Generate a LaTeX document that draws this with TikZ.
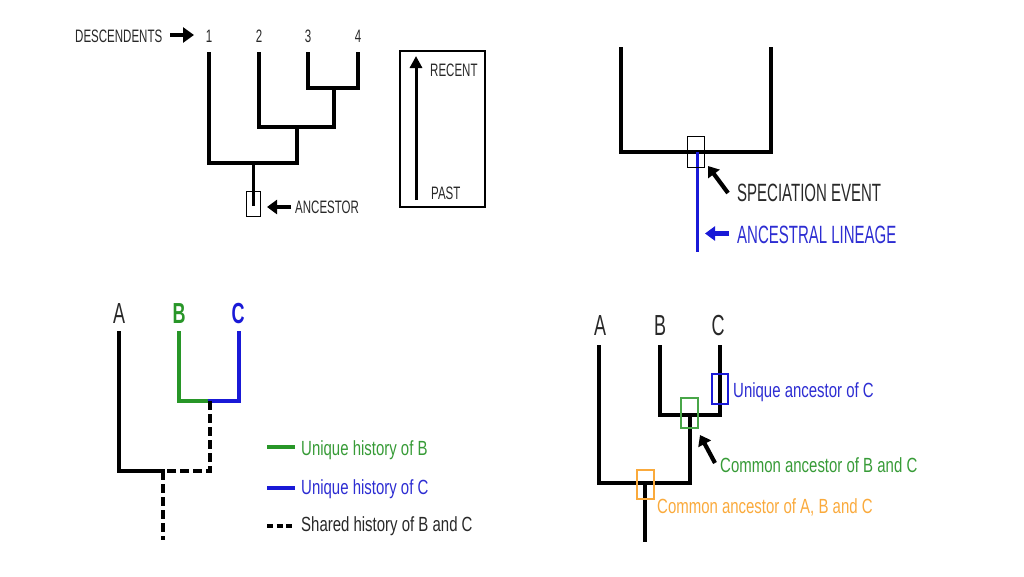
\documentclass[tikz,border=0pt]{standalone}
\usepackage{fontspec}
\setmainfont{Liberation Sans}
\newfontfamily\fA{Liberation Sans}[FakeStretch=0.64]
\newfontfamily\fS{Liberation Sans}[FakeStretch=0.6]
\newfontfamily\fB{Liberation Sans}[FakeStretch=0.73]
\newfontfamily\fL{Liberation Sans}[FakeStretch=0.62]
\usetikzlibrary{arrows.meta}
\definecolor{txtgray}{RGB}{40,40,40}
\definecolor{lgreen}{RGB}{40,150,40}
\definecolor{tgreen}{RGB}{55,155,55}
\definecolor{lblue}{RGB}{25,25,215}
\definecolor{tblue}{RGB}{45,45,210}
\definecolor{lorange}{RGB}{250,170,60}
\tikzset{
  branch/.style={line width=3.4pt, line cap=rect, line join=miter},
  thinbox/.style={draw, line width=0.9pt},
  toptxt/.style={font=\fA\fontsize{18}{20}\selectfont, text=txtgray, inner sep=0, anchor=base west},
  bigtxt/.style={font=\fS\fontsize{25}{27}\selectfont, inner sep=0, anchor=base west},
  legtxt/.style={font=\fB\fontsize{20.5}{23}\selectfont, inner sep=0, anchor=base west},
  leaf/.style={font=\fL\fontsize{29}{31}\selectfont, inner sep=0, anchor=base},
  blockarrow/.style={line width=4.5pt, -{Triangle[width=15pt,length=11pt]}},
  dash3/.style={line width=3.4pt, dash pattern=on 9pt off 4pt},
}
\begin{document}
\begin{tikzpicture}[x=1pt,y=-1pt]
\useasboundingbox (0,0) rectangle (1024,576);

% ---------- top-left tree ----------
\node[toptxt] (desc) at (75,42) {DESCENDENTS};
\coordinate (descA) at (170,35);
\coordinate (descB) at (194,35);
\draw[blockarrow] (descA) -- (descB);
\node[toptxt, anchor=base] (n1) at (209,42) {1};
\node[toptxt, anchor=base] (n2) at (259,42) {2};
\node[toptxt, anchor=base] (n3) at (308,42) {3};
\node[toptxt, anchor=base] (n4) at (358,42) {4};
\coordinate (t1) at (209,54);
\coordinate (t2) at (259,54);
\coordinate (t3) at (308,54);
\coordinate (t4) at (358,54);
\coordinate (j34) at (334,88);
\coordinate (j234) at (297,127);
\coordinate (j1234) at (253,163);
\coordinate (rootTL) at (253,206);
\draw[branch] (t3) |- (j34) -| (t4);
\draw[branch] (j34) -- (334,127) -| (t2);
\draw[branch] (j234) -- (297,163) -| (t1);
\draw[branch, line width=3pt, line cap=butt] (j1234) -- (rootTL);
\node[thinbox, minimum width=14pt, minimum height=25pt, inner sep=0] (ancbox) at (253,203.5) {};
\node[toptxt] (anc) at (295,213.5) {ANCESTOR};
\coordinate (ancA) at (291,207);
\coordinate (ancB) at (267,207);
\draw[blockarrow, -{Triangle[width=14pt,length=10pt]}] (ancA) -- (ancB);

% ---------- time box ----------
\node[draw, line width=1.2pt, minimum width=85pt, minimum height=156pt, inner sep=0] (timebox) at (442.5,129) {};
\coordinate (past) at (416,200);
\coordinate (recent) at (416,56);
\draw[line width=3pt, -{Triangle[width=12pt,length=12pt]}] (past) -- (recent);
\node[toptxt] (rec) at (430,76.5) {RECENT};
\node[toptxt] (pst) at (431,199) {PAST};

% ---------- top-right speciation ----------
\coordinate (sl) at (621,49);
\coordinate (sr) at (771,49);
\coordinate (sj) at (697,152);
\draw[branch] (sl) |- (sj) -| (sr);
\coordinate (sbot) at (697,252);
\draw[line width=3pt, lblue] (sj) -- (sbot);
\node[thinbox, minimum width=17pt, minimum height=31pt, inner sep=0] (specbox) at (695.5,151.5) {};
\coordinate (spA) at (728,193);
\coordinate (spB) at (708,166);
\draw[line width=4.2pt, -{Triangle[width=14pt,length=10pt]}] (spA) -- (spB);
\node[bigtxt, text=txtgray] (spec) at (737,201.5) {SPECIATION EVENT};
\coordinate (alA) at (729,233.5);
\coordinate (alB) at (705,233.5);
\draw[line width=4.2pt, lblue, -{Triangle[width=14pt,length=10pt]}] (alA) -- (alB);
\node[bigtxt, text=tblue] (anl) at (737,243) {ANCESTRAL LINEAGE};

% ---------- bottom-left tree ----------
\node[leaf, text=txtgray] (LA) at (119,323) {A};
\node[leaf, text=lgreen, font=\fL\bfseries\fontsize{29}{31}\selectfont] (LB) at (179,323) {B};
\node[leaf, text=lblue, font=\fL\bfseries\fontsize{29}{31}\selectfont] (LC) at (238,323) {C};
\coordinate (bA) at (119,333);
\coordinate (bB) at (179,333);
\coordinate (bC) at (239,333);
\coordinate (bBC) at (210,401);
\coordinate (bABC) at (163,471);
\coordinate (bRoot) at (163,540);
\draw[branch, lgreen] (bB) |- (bBC);
\draw[branch, lblue] (bBC) -| (bC);
\draw[branch] (bA) |- (bABC);
\draw[dash3] (bBC) |- (bABC);
\draw[dash3] (bABC) -- (bRoot);
% legend
\coordinate (g1) at (267,447); \coordinate (g2) at (295,447);
\coordinate (b1) at (267,488); \coordinate (b2) at (295,488);
\coordinate (d1) at (267,526); \coordinate (d2) at (295,526);
\draw[line width=3.4pt, lgreen] (g1) -- (g2);
\draw[line width=3.4pt, lblue] (b1) -- (b2);
\draw[line width=3.4pt, dash pattern=on 6pt off 3.5pt] (d1) -- (d2);
\node[legtxt, text=tgreen] (lg1) at (301,455) {Unique history of B};
\node[legtxt, text=tblue] (lg2) at (301,494) {Unique history of C};
\node[legtxt, text=txtgray] (lg3) at (301,531) {Shared history of B and C};

% ---------- bottom-right tree ----------
\node[leaf, text=txtgray] (RA) at (600,335) {A};
\node[leaf, text=txtgray] (RB) at (660,335) {B};
\node[leaf, text=txtgray] (RC) at (718,335) {C};
\coordinate (rA) at (599,347);
\coordinate (rB) at (660,347);
\coordinate (rC) at (720,347);
\coordinate (rBC) at (690,415);
\coordinate (rABC) at (645,483);
\coordinate (rRoot) at (645,540);
\draw[branch] (rB) |- (rBC) -| (rC);
\draw[branch] (rBC) |- (rABC) -| (rA);
\draw[branch] (rABC) -- (rRoot);
\node[draw=lblue, line width=1.3pt, minimum width=16pt, minimum height=30pt, inner sep=0] (ubox) at (720,389) {};
\node[draw=lgreen!85, line width=1.3pt, minimum width=17pt, minimum height=30pt, inner sep=0] (gbox) at (689.5,413) {};
\node[draw=lorange, line width=1.3pt, minimum width=17pt, minimum height=29pt, inner sep=0] (obox) at (645.5,484.5) {};
\coordinate (caA) at (715,463);
\coordinate (caB) at (700,435);
\draw[line width=4.2pt, -{Triangle[width=14pt,length=10pt]}] (caA) -- (caB);
\node[legtxt, text=tblue] (t_uc) at (733,397) {Unique ancestor of C};
\node[legtxt, text=tgreen] (t_cbc) at (720,472) {Common ancestor of B and C};
\node[legtxt, text=lorange] (t_cabc) at (657,513) {Common ancestor of A, B and C};
\end{tikzpicture}
\end{document}
